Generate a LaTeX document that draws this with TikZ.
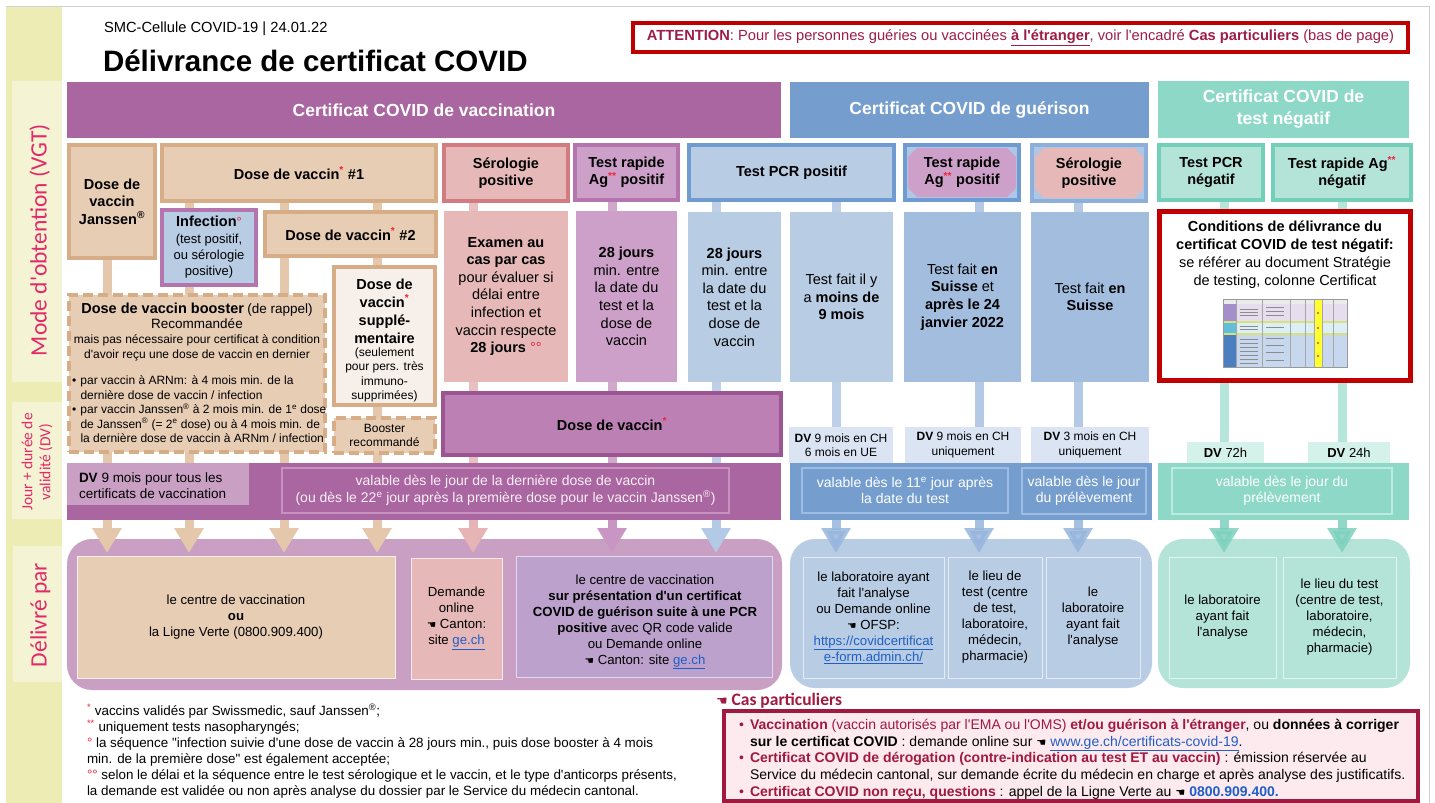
\documentclass[tikz,border=0pt]{standalone}
\usepackage{fontspec}
\setmainfont{Liberation Sans}[Ligatures=TeXOff]
\newfontfamily\calib{Carlito}
\newfontfamily\symb{DejaVu Sans}
\usetikzlibrary{calc,arrows.meta}
\pgfdeclarelayer{paper}
\pgfdeclarelayer{bars}
\pgfsetlayers{paper,bars,main}

% palette
\definecolor{vacpurple}{HTML}{A966A0}
\definecolor{vaclight}{HTML}{C9A0C4}
\definecolor{guerblue}{HTML}{759ECF}
\definecolor{negteal}{HTML}{8ED8C8}
\definecolor{tanfill}{HTML}{E8CDB5}
\definecolor{tanedge}{HTML}{D7AD88}
\definecolor{tanbar}{HTML}{E5C8AC}
\definecolor{pinkfill}{HTML}{E6B8B8}
\definecolor{pinkedge}{HTML}{D27B81}
\definecolor{pinkbar}{HTML}{E9C0C0}
\definecolor{mauvefill}{HTML}{CCA0C8}
\definecolor{mauveedge}{HTML}{B474AE}
\definecolor{mauvebar}{HTML}{D0A8CC}
\definecolor{bluefill}{HTML}{B8CCE4}
\definecolor{blueedge}{HTML}{6F9BD0}
\definecolor{bluedark}{HTML}{A3BDDE}
\definecolor{bluebar}{HTML}{BDD0E8}
\definecolor{bluebarB}{HTML}{B3C9E5}
\definecolor{bluecorner}{HTML}{AFC7E6}
\definecolor{blueedgeB}{HTML}{8EAFDA}
\definecolor{tealfill}{HTML}{B4E4D8}
\definecolor{tealedge}{HTML}{73CFBA}
\definecolor{tealbar}{HTML}{B6E6DA}
\definecolor{dosefill}{HTML}{BC80B5}
\definecolor{doseedge}{HTML}{9A5592}
\definecolor{lavfill}{HTML}{BBA1CC}
\definecolor{creamfill}{HTML}{F7EFE9}
\definecolor{alertred}{HTML}{C00000}
\definecolor{crimson}{HTML}{A0193F}
\definecolor{casfill}{HTML}{FCEAEF}
\definecolor{sidepink}{HTML}{E3296A}
\definecolor{linkblue}{HTML}{1F5FC6}
\definecolor{dvblue}{HTML}{DAE4F3}
\definecolor{dvteal}{HTML}{D4F1EA}
\definecolor{bandyellow}{HTML}{EDECB5}
\definecolor{panelyellow}{HTML}{F4F3D3}
\definecolor{astred}{HTML}{F0243C}
\definecolor{atttext}{HTML}{9D1D46}
\definecolor{arrtan}{HTML}{E5C8AC}
\definecolor{arrpink}{HTML}{E6B4B4}
\definecolor{arrmauve}{HTML}{C995C3}
\definecolor{arrblue}{HTML}{B3CAE6}
\definecolor{arrblueB}{HTML}{97B5DD}
\definecolor{arrteal}{HTML}{7ED1BE}
\definecolor{vacline}{HTML}{C892C0}
\definecolor{vactext}{HTML}{FBEFF8}
\definecolor{guerline}{HTML}{9DBCE4}
\definecolor{tealline}{HTML}{BDEBE0}
% miniature table colours
\definecolor{tabA}{HTML}{E6DDEF}
\definecolor{tabAh}{HTML}{A48FCB}
\definecolor{tabsep}{HTML}{D8E27A}
\definecolor{tabB}{HTML}{DDEFF6}
\definecolor{tabBh}{HTML}{62BFD9}
\definecolor{tabC}{HTML}{C7D8EE}
\definecolor{tabCh}{HTML}{4C7FC0}
\definecolor{tabY}{HTML}{FFFF30}

\newcommand\fsz[2]{\fontsize{#1pt}{#2pt}\selectfont}
\newcommand\rs[1]{\textsuperscript{\textcolor{astred}{#1}}}
\newcommand\regm{\textsuperscript{\textregistered}}
\newcommand\lnk[1]{\textcolor{linkblue}{\underline{#1}}}
\newcommand\handL{{\symb\scalebox{0.8}{☚}}}
\newcommand\chamf[6]{\fill[#1] (#2+#6,#3) -- (#4-#6,#3) -- (#4,#3+#6) -- (#4,#5-#6) -- (#4-#6,#5) -- (#2+#6,#5) -- (#2,#5-#6) -- (#2,#3+#6) -- cycle;}

\begin{document}
\begin{tikzpicture}[x=1pt,y=-1pt,
  every node/.style={inner sep=0pt, outer sep=0pt},
  box/.style n args={4}{minimum width=#3-#1, minimum height=#4-#2, at={({(#1+#3)/2},{(#2+#4)/2})}},
  hdr/.style={fill=#1, text=white, font=\bfseries\fsz{17.5}{22}, align=center},
  hd/.style={font=\bfseries\fsz{14.5}{17.5}, align=center},
  framed/.style 2 args={draw=#1, fill=#2, line width=4pt},
  dashbox/.style={draw=tanedge, fill=tanfill, line width=4pt, dash pattern=on 10pt off 5pt},
  tall/.style={font=\fsz{14.5}{17.6}, align=center},
  dvlab/.style={font=\fsz{12}{14.5}, align=center},
  band/.style={draw=#1, line width=1.2pt, align=center, font=\fsz{14}{16.5}},
  deliv/.style={fill=#1, rounded corners=25pt},
  cell/.style 2 args={fill=#1, draw=#2, line width=1pt, align=center, font=\fsz{13.2}{16}},
  bar/.style={line width=9pt, draw=#1},
  arr/.style={line width=9pt, draw=#1, -{Triangle[width=28pt,length=25pt]}},
  arrsoft/.style={arr=#1, opacity=.85}]

\useasboundingbox (0,0) rectangle (1435,803);
\begin{pgfonlayer}{paper}
  \fill[white] (0,0) rectangle (1435,803);
\end{pgfonlayer}

% page frame and side band
\draw[black!18, line width=1pt] (6,6) -- (1429,6) -- (1429,803);
\fill[bandyellow] (6,7) rectangle (62,803);
\fill[panelyellow] (12,81) rectangle (62,382);
\fill[panelyellow] (12,402) rectangle (62,519);
\fill[panelyellow] (13,546) rectangle (62,682);
\node[rotate=90, anchor=base, font=\calib\fsz{23.5}{26}, text=sidepink] (lblmode) at (46.5,240) {Mode d'obtention (VGT)};
\node[rotate=90, align=center, font=\calib\fsz{15.5}{18}, text=sidepink] (lbldv) at (37,462) {Jour + durée de\\validité (DV)};
\node[rotate=90, anchor=base, font=\calib\fsz{23.5}{26}, text=sidepink] (lbldel) at (46.5,615) {Délivré par};

% title block
\node[anchor=base west, font=\fsz{14.7}{17}] (smc) at (104,32) {SMC-Cellule COVID-19 | 24.01.22};
\node[anchor=base west, font=\bfseries\fsz{29.5}{34}] (title) at (103,71) {Délivrance de certificat COVID};
\node[draw=alertred, fill=white, line width=4pt, box={633}{23}{1408}{52}, font=\fsz{14.7}{16}, text=atttext] (att)
  {\textbf{ATTENTION}: Pour les personnes guéries ou vaccinées \textbf{\underline{à l'étranger}}, voir l'encadré \textbf{Cas particuliers} (bas de page)};

% certificate headers
\node[hdr=vacpurple, box={67}{82}{781}{138}] (hvac) {Certificat COVID de vaccination};
\node[hdr=guerblue, box={790}{82}{1149}{138}] (hguer) {Certificat COVID de guérison};
\node[hdr=negteal, box={1158}{81}{1409}{138}] (hneg) {Certificat COVID de\\test négatif};

% vaccination: ways of obtaining
\node[framed={tanedge}{tanfill}, hd, box={69}{145}{155}{258}] (jan) {Dose de\\vaccin\\Janssen\regm};
\node[framed={tanedge}{tanfill}, hd, box={162}{145}{436}{201}] (d1) {Dose de vaccin\rs{*} \#1};
\node[framed={mauveedge}{bluefill}, box={162}{210}{256}{285}, align=center, font=\fsz{13}{16.3}] (inf)
  {{\bfseries\fsz{14.5}{16.3}Infection}\textcolor{astred}{°}\\(test positif,\\ou sérologie\\positive)};
\node[framed={tanedge}{tanfill}, hd, box={265}{212}{436}{256}] (d2) {Dose de vaccin\rs{*} \#2};
\node[dashbox, box={69}{295}{325}{452}] (boost) {};
\node[align=center, font=\fsz{12}{15.3}] (boostA) at (197,332)
  {{\bfseries\fsz{14.5}{15.3}Dose de vaccin booster} {\fsz{13.5}{15.3}(de rappel)}\\{\fsz{13.5}{15.3}Recommandée}\\mais pas nécessaire pour certificat à condition\\d'avoir reçu une dose de vaccin en dernier};
\node[anchor=north west, align=left, font=\fsz{12}{14.4}] (boostB) at (72,376)
  {\makebox[8.5pt][l]{•}par vaccin à ARNm: à 4 mois min. de la\\
   \hspace*{8.5pt}dernière dose de vaccin / infection\\
   \makebox[8.5pt][l]{•}par vaccin Janssen\regm\ à 2 mois min. de 1\textsuperscript{e} dose\\
   \hspace*{8.5pt}de Janssen\regm\ (= 2\textsuperscript{e} dose) ou à 4 mois min. de\\
   \hspace*{8.5pt}la dernière dose de vaccin à ARNm / infection};
\node[framed={tanedge}{creamfill}, box={334}{267}{435}{405}] (supp) {};
\node[align=center, font=\bfseries\fsz{14.5}{18}] (suppA) at (384.5,311) {Dose de\\vaccin\rs{*}\\supplé-\\mentaire};
\node[align=center, font=\fsz{12}{14.4}] (suppB) at (384.5,375) {(seulement\\pour pers. très\\immuno-\\supprimées)};
\node[dashbox, box={334}{418}{435}{453}, align=center, font=\fsz{12}{14}] (brec) {Booster\\recommandé};

\node[framed={pinkedge}{pinkfill}, hd, box={444}{145}{568}{201}] (sero1) {Sérologie\\positive};
\node[framed={mauveedge}{mauvefill}, hd, box={575}{145}{678}{200}] (tra1) {Test rapide\\Ag\rs{**} positif};

% recovery: ways of obtaining
\node[framed={blueedge}{bluefill}, hd, box={689}{145}{894}{200}] (pcr) {Test PCR positif};
\node[draw=blueedge, fill=bluecorner, line width=3.5pt, box={905}{145}{1019}{200}] (tra2) {};
\chamf{mauvefill}{908}{148}{1016}{197}{9}
\node[hd] (tra2t) at (tra2.center) {Test rapide\\Ag\rs{**} positif};
\node[draw=blueedgeB, fill=bluecorner, line width=3.5pt, box={1032}{145}{1146}{201}] (sero2) {};
\chamf{pinkfill}{1035}{148}{1143}{198}{9}
\node[hd] (sero2t) at (sero2.center) {Sérologie\\positive};

% negative test: ways of obtaining
\node[framed={tealedge}{tealfill}, hd, box={1159}{145}{1263}{200}] (pcrn) {Test PCR\\négatif};
\node[framed={tealedge}{tealfill}, hd, box={1273}{145}{1411}{200}] (tran) {Test rapide Ag\rs{**}\\négatif};

% conditions
\node[fill=pinkfill, tall, box={444}{211}{568}{382}] (exam)
  {\textbf{Examen au}\\\textbf{cas par cas}\\pour évaluer si\\délai entre\\infection et\\vaccin respecte\\\textbf{28 jours} \textcolor{astred}{°°}};
\node[fill=mauvefill, tall, box={576}{211}{677}{382}] (j28a)
  {\textbf{28 jours}\\min. entre\\la date du\\test et la\\dose de\\vaccin};
\node[fill=bluefill, tall, box={688}{212}{781}{382}] (j28b)
  {\textbf{28 jours}\\min. entre\\la date du\\test et la\\dose de\\vaccin};
\node[fill=bluefill, tall, box={790}{212}{893}{382}] (m9) {Test fait il y\\a \textbf{moins de}\\\textbf{9 mois}};
\node[fill=bluedark, tall, box={904}{212}{1021}{382}] (ch24) {Test fait \textbf{en}\\\textbf{Suisse} et\\\textbf{après le 24}\\\textbf{janvier 2022}};
\node[fill=bluedark, tall, box={1031}{212}{1149}{382}] (chs) {Test fait \textbf{en}\\\textbf{Suisse}};
\node[draw=alertred, fill=white, line width=5pt, box={1159.5}{211.5}{1410.5}{380.5}] (cond) {};
\node[align=center, font=\fsz{14.5}{18}] (condt) at (1285,255)
  {\textbf{Conditions de délivrance du}\\\textbf{certificat COVID de test négatif:}\\se référer au document Stratégie\\de testing, colonne Certificat};

% miniature of the testing strategy table
\fill[white] (1223,299) rectangle (1347,367);
\fill[black!8] (1223,299) rectangle (1347,304);
\fill[tabA] (1223,304) rectangle (1347,321);
\fill[tabAh] (1223,304) rectangle (1236,321);
\fill[tabsep] (1223,321) rectangle (1347,323);
\fill[tabB] (1223,323) rectangle (1347,333);
\fill[tabBh] (1223,323) rectangle (1236,333);
\fill[tabsep] (1223,333) rectangle (1347,335);
\fill[tabC] (1223,335) rectangle (1347,367);
\fill[tabCh] (1223,335) rectangle (1236,367);
\fill[tabY] (1314,299) rectangle (1322,367);
\foreach \gx in {1236,1262,1290,1305,1314,1322,1333}
  \draw[black!35, line width=0.3pt] (\gx,299) -- (\gx,367);
\foreach \gy in {309,312,315,326,329,339,343,347,351,355,359,363}
  \draw[black!45, line width=0.6pt] (1240,\gy) -- (1258,\gy);
\foreach \gy in {307,311,315,327,338,345,352,360}
  \draw[black!45, line width=0.6pt] (1266,\gy) -- (1284,\gy);
\foreach \gy in {313,328,343,356}
  \fill[red!80] (1318,\gy) circle (1.2);
\draw[black!40, line width=0.4pt] (1223,299) rectangle (1347,367);

% single dose box
\node[framed={doseedge}{dosefill}, hd, box={443}{393}{781}{455}] (dose) {Dose de vaccin\rs{*}};

% validity labels
\node[fill=dvblue, dvlab, box={789}{427}{893}{463}] (dvg1) {\textbf{DV} 9 mois en CH\\6 mois en UE};
\node[fill=dvblue, dvlab, box={905}{427}{1021}{463}] (dvg2) {\textbf{DV} 9 mois en CH\\uniquement};
\node[fill=dvblue, dvlab, box={1031}{427}{1149}{463}] (dvg3) {\textbf{DV} 3 mois en CH\\uniquement};
\node[fill=dvteal, font=\fsz{13}{15}, box={1187}{442}{1264}{463}] (dvn1) {\textbf{DV} 72h};
\node[fill=dvteal, font=\fsz{13}{15}, box={1308}{442}{1390}{463}] (dvn2) {\textbf{DV} 24h};

% validity bands
\node[fill=vacpurple, box={67}{463}{781}{520}] (svac) {};
\node[fill=vaclight, box={67}{463}{249}{505}] (svl) {};
\node[anchor=west, align=left, font=\fsz{13.5}{15.5}] (svlt) at (79,485.5) {\textbf{DV} 9 mois pour tous les\\certificats de vaccination};
\node[band=vacline, text=vactext, box={282}{468}{729}{513}] (svi)
  {valable dès le jour de la dernière dose de vaccin\\(ou dès le 22\textsuperscript{e} jour après la première dose pour le vaccin Janssen\regm)};
\node[fill=guerblue, box={790}{463}{1152}{520}] (sguer) {};
\node[band=guerline, text=white, box={802}{468}{1008}{513}] (sgi1) {valable dès le 11\textsuperscript{e} jour après\\la date du test};
\node[band=guerline, text=white, box={1022}{468}{1146}{514}] (sgi2) {valable dès le jour\\du prélèvement};
\node[fill=negteal, box={1158}{463}{1409}{520}] (sneg) {};
\node[band=tealline, text=white, box={1172}{468}{1392}{514}] (sni) {valable dès le jour du\\prélèvement};

% issuers
\node[deliv=vaclight, box={67}{539}{782}{690}] (dvac) {};
\node[cell={tanfill}{white!70!tanfill}, box={77}{556}{395}{678}] (del1) {le centre de vaccination\\\textbf{ou}\\la Ligne Verte (0800.909.400)};
\node[cell={pinkfill}{white!70!pinkfill}, box={411}{558}{502}{679}] (del2) {Demande\\online\\\handL\ Canton:\\site \lnk{ge.ch}};
\node[cell={lavfill}{white!60!lavfill}, box={516}{556}{772}{677}] (del3) {};
\node[align=center, font=\fsz{13.2}{16}] (del3t) at (645,622)
  {le centre de vaccination\\\textbf{sur présentation d'un certificat}\\\textbf{COVID de guérison suite à une PCR}\\\textbf{positive} avec QR code valide\\ou Demande online\\\handL\ Canton: site \lnk{ge.ch}};
\node[deliv=bluefill, box={790}{539}{1152}{688}] (dguer) {};
\node[cell={bluefill}{white!60!bluefill}, box={803}{557}{944}{678}] (dg1)
  {le laboratoire ayant\\fait l'analyse\\ou Demande online\\\handL\ OFSP:\\\lnk{https://covidcertificat}\\\lnk{e-form.admin.ch/}};
\node[cell={bluefill}{white!60!bluefill}, box={948}{557}{1042}{678}] (dg2)
  {le lieu de\\test (centre\\de test,\\laboratoire,\\médecin,\\pharmacie)};
\node[cell={bluefill}{white!60!bluefill}, box={1046}{557}{1140}{678}] (dg3) {le\\laboratoire\\ayant fait\\l'analyse};
\node[deliv=tealfill, box={1158}{539}{1410}{688}] (dneg) {};
\node[cell={tealfill}{white!60!tealfill}, box={1169}{557}{1276}{678}] (dn1) {le laboratoire\\ayant fait\\l'analyse};
\node[cell={tealfill}{white!60!tealfill}, box={1283}{557}{1396}{678}] (dn2) {le lieu du test\\(centre de test,\\laboratoire,\\médecin,\\pharmacie)};

% column positions of the links
\coordinate (a1) at (107,0);
\coordinate (a2) at (189,0);
\coordinate (a3) at (284,0);
\coordinate (a4) at (377,0);
\coordinate (a5) at (473,0);
\coordinate (a6) at (612,0);
\coordinate (a7) at (716,0);
\coordinate (a8) at (836,0);
\coordinate (a9) at (979,0);
\coordinate (a10) at (1078,0);
\coordinate (a11) at (1224,0);
\coordinate (a12) at (1342,0);

% links behind the boxes
\begin{pgfonlayer}{bars}
  \draw[bar=tanbar] (jan.south -| a1) -- (svac.north -| a1);
  \draw[bar=tanbar] (d1.south -| a2) -- (svac.north -| a2);
  \draw[bar=tanbar] (d1.south -| a3) -- (svac.north -| a3);
  \draw[bar=tanbar] (d1.south -| a4) -- (svac.north -| a4);
  \draw[bar=pinkbar] (sero1.south -| a5) -- (svac.north -| a5);
  \draw[bar=mauvebar] (tra1.south -| a6) -- (svac.north -| a6);
  \draw[bar=bluebar] (pcr.south -| a7) -- (svac.north -| a7);
  \draw[bar=bluebar] (pcr.south -| a8) -- (dvg1.north -| a8);
  \draw[bar=bluebarB] (tra2.south -| a9) -- (dvg2.north -| a9);
  \draw[bar=bluebarB] (sero2.south -| a10) -- (dvg3.north -| a10);
  \draw[bar=tealbar] (pcrn.south -| a11) -- (dvn1.north -| a11);
  \draw[bar=tealbar] (tran.south -| a12) -- (dvn2.north -| a12);
\end{pgfonlayer}

% arrows to the issuers
\draw[arr=arrtan] (svac.south -| a1) -- ($(dvac.north -| a1)+(0,14)$);
\draw[arr=arrtan] (svac.south -| a2) -- ($(dvac.north -| a2)+(0,14)$);
\draw[arr=arrtan] (svac.south -| a3) -- ($(dvac.north -| a3)+(0,14)$);
\draw[arr=arrtan] (svac.south -| a4) -- ($(dvac.north -| a4)+(0,14)$);
\draw[arr=arrpink] (svac.south -| a5) -- ($(dvac.north -| a5)+(0,14)$);
\draw[arr=arrmauve] (svac.south -| a6) -- ($(dvac.north -| a6)+(0,14)$);
\draw[arr=arrblue] (svac.south -| a7) -- ($(dvac.north -| a7)+(0,14)$);
\draw[arrsoft=arrblueB] (sguer.south -| a8) -- ($(dguer.north -| a8)+(0,14)$);
\draw[arrsoft=arrblueB] (sguer.south -| a9) -- ($(dguer.north -| a9)+(0,14)$);
\draw[arrsoft=arrblueB] (sguer.south -| a10) -- ($(dguer.north -| a10)+(0,14)$);
\draw[arrsoft=arrteal] (sneg.south -| a11) -- ($(dneg.north -| a11)+(0,14)$);
\draw[arrsoft=arrteal] (sneg.south -| a12) -- ($(dneg.north -| a12)+(0,14)$);

% footnotes
\node[anchor=north west, align=left, font=\fsz{13.4}{16}] (notes) at (87,704)
  {\rs{*} vaccins validés par Swissmedic, sauf Janssen\regm;\\
   \rs{**} uniquement tests nasopharyngés;\\
   \textcolor{astred}{°} la séquence "infection suivie d'une dose de vaccin à 28 jours min., puis dose booster à 4 mois\\
   min. de la première dose" est également acceptée;\\
   \textcolor{astred}{°°} selon le délai et la séquence entre le test sérologique et le vaccin, et le type d'anticorps présents,\\
   la demande est validée ou non après analyse du dossier par le Service du médecin cantonal.};

% special cases
\node[anchor=west, font=\calib\bfseries\fsz{17.5}{19}, text=crimson] (cashead) at (716,701) {{\symb\fsz{13}{14}☚} Cas particuliers};
\node[draw=crimson, fill=casfill, line width=4pt, box={724}{711}{1418}{801}] (cas) {};
\node[anchor=north west, align=left, font=\fsz{14}{16.7}] (castxt) at (739,719)
  {\makebox[11pt][l]{\textcolor{crimson}{•}}\textcolor{crimson}{\textbf{Vaccination} (vaccin autorisés par l'EMA ou l'OMS) \textbf{et/ou guérison à l'étranger}}, ou \textbf{données à corriger}\\
   \hspace*{11pt}\textbf{sur le certificat COVID} : demande online sur \handL\ \lnk{www.ge.ch/certificats-covid-19}.\\
   \makebox[11pt][l]{\textcolor{crimson}{•}}\textcolor{crimson}{\textbf{Certificat COVID de dérogation (contre-indication au test ET au vaccin)}} : émission réservée au\\
   \hspace*{11pt}Service du médecin cantonal, sur demande écrite du médecin en charge et après analyse des justificatifs.\\
   \makebox[11pt][l]{\textcolor{crimson}{•}}\textcolor{crimson}{\textbf{Certificat COVID non reçu, questions}} : appel de la Ligne Verte au \handL\ \textcolor{linkblue}{\textbf{0800.909.400.}}};

\end{tikzpicture}
\end{document}
